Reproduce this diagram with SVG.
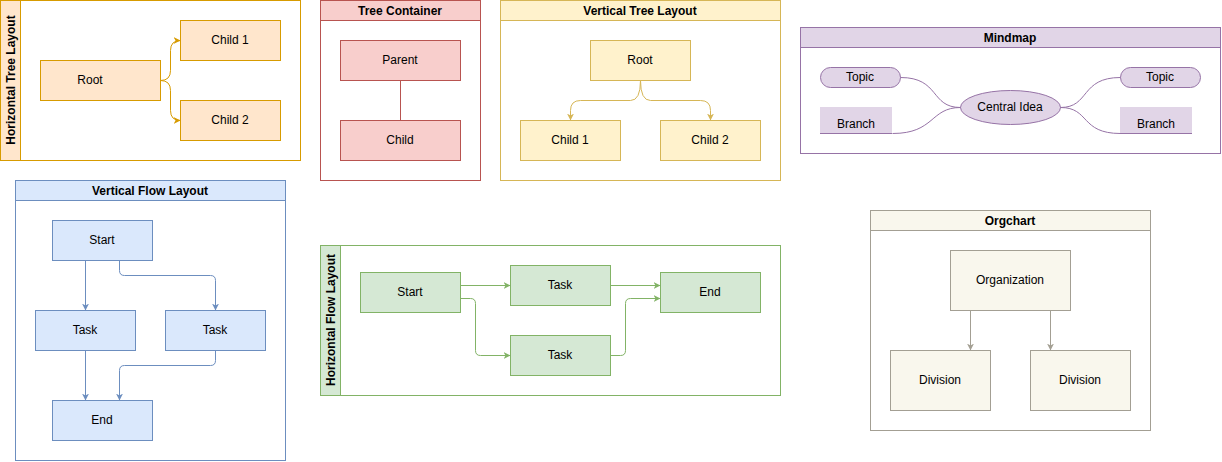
<svg xmlns="http://www.w3.org/2000/svg" width="1222" height="462" viewBox="0 0 1222 462">
<style>
text{font-family:"Liberation Sans",Arial,sans-serif;font-size:12px;fill:#000;text-anchor:middle;dominant-baseline:central}
.h{font-weight:bold}
.or{fill:#ffe6cc;stroke:#d79b00}.rd{fill:#f8cecc;stroke:#b85450}.yl{fill:#fff2cc;stroke:#d6b656}
.pu{fill:#e1d5e7;stroke:#9673a6}.bl{fill:#dae8fc;stroke:#6c8ebf}.gr{fill:#d5e8d4;stroke:#82b366}.og{fill:#f9f7ed;stroke:#a39f93}
.w{fill:#fff}
.c{fill:none}
</style>
<defs>
<marker id="ao" markerWidth="8" markerHeight="8" refX="7" refY="4" orient="auto" markerUnits="userSpaceOnUse"><path d="M0,0.5 L7,4 L0,7.5 L2,4z" fill="#d79b00"/></marker>
<marker id="ay" markerWidth="8" markerHeight="8" refX="7" refY="4" orient="auto" markerUnits="userSpaceOnUse"><path d="M0,0.5 L7,4 L0,7.5 L2,4z" fill="#d6b656"/></marker>
<marker id="ab" markerWidth="8" markerHeight="8" refX="7" refY="4" orient="auto" markerUnits="userSpaceOnUse"><path d="M0,0.5 L7,4 L0,7.5 L2,4z" fill="#6c8ebf"/></marker>
<marker id="ag" markerWidth="8" markerHeight="8" refX="7" refY="4" orient="auto" markerUnits="userSpaceOnUse"><path d="M0,0.5 L7,4 L0,7.5 L2,4z" fill="#82b366"/></marker>
<marker id="aw" markerWidth="8" markerHeight="8" refX="7" refY="4" orient="auto" markerUnits="userSpaceOnUse"><path d="M0,0.5 L7,4 L0,7.5 L2,4z" fill="#a39f93"/></marker>
</defs>
<g id="htree">
<rect class="or w" x="0.5" y="0.5" width="300" height="160" style="fill:#fff"/>
<rect class="or" x="0.5" y="0.5" width="20" height="160"/>
<text class="h" transform="translate(11,80) rotate(-90)">Horizontal Tree Layout</text>
</g>
<g id="ht-root"><rect class="or" x="40.5" y="60.5" width="120" height="40"/><text x="90" y="80">Root</text></g>
<g id="ht-c1"><rect class="or" x="180.5" y="20.5" width="100" height="40"/><text x="230" y="40">Child 1</text></g>
<g id="ht-c2"><rect class="or" x="180.5" y="100.5" width="100" height="40"/><text x="230" y="120">Child 2</text></g>
<g id="tc"><rect class="rd" x="320.5" y="0.5" width="160" height="180" style="fill:#fff"/><rect class="rd" x="320.5" y="0.5" width="160" height="20"/><text class="h" x="400" y="11">Tree Container</text></g>
<g id="tc-p"><rect class="rd" x="340.5" y="40.5" width="120" height="40"/><text x="400" y="60">Parent</text></g>
<g id="tc-c"><rect class="rd" x="340.5" y="120.5" width="120" height="40"/><text x="400" y="140">Child</text></g>
<g id="vtree"><rect class="yl" x="500.5" y="0.5" width="280" height="180" style="fill:#fff"/><rect class="yl" x="500.5" y="0.5" width="280" height="20"/><text class="h" x="640" y="11">Vertical Tree Layout</text></g>
<g id="vt-root"><rect class="yl" x="590.5" y="40.5" width="100" height="40"/><text x="640" y="60">Root</text></g>
<g id="vt-c1"><rect class="yl" x="520.5" y="120.5" width="100" height="40"/><text x="570" y="140">Child 1</text></g>
<g id="vt-c2"><rect class="yl" x="660.5" y="120.5" width="100" height="40"/><text x="710" y="140">Child 2</text></g>
<g id="mindmap"><rect class="pu" x="800.5" y="27.5" width="420" height="126" style="fill:#fff"/><rect class="pu" x="800.5" y="27.5" width="420" height="20"/><text class="h" x="1010" y="38">Mindmap</text></g>
<g id="mm-central"><ellipse class="pu" cx="1010.5" cy="107.5" rx="50" ry="17"/><text x="1010" y="107">Central Idea</text></g>
<g id="mm-t1"><rect class="pu" x="820.5" y="67.5" width="80" height="20" rx="10"/><text x="860" y="77">Topic</text></g>
<g id="mm-t2"><rect class="pu" x="1120.5" y="67.5" width="80" height="20" rx="10"/><text x="1160" y="77">Topic</text></g>
<g id="mm-b1"><rect x="820" y="107" width="72" height="26" fill="#e1d5e7"/><line x1="820" y1="133.5" x2="892" y2="133.5" stroke="#9673a6"/><text x="856" y="124">Branch</text></g>
<g id="mm-b2"><rect x="1120" y="107" width="72" height="26" fill="#e1d5e7"/><line x1="1120" y1="133.5" x2="1192" y2="133.5" stroke="#9673a6"/><text x="1156" y="124">Branch</text></g>
<g id="vflow"><rect class="bl" x="15.5" y="180.5" width="270" height="280" style="fill:#fff"/><rect class="bl" x="15.5" y="180.5" width="270" height="20"/><text class="h" x="150" y="191">Vertical Flow Layout</text></g>
<g id="vf-start"><rect class="bl" x="52.5" y="220.5" width="100" height="40"/><text x="102" y="240">Start</text></g>
<g id="vf-t1"><rect class="bl" x="35.5" y="310.5" width="100" height="40"/><text x="85" y="330">Task</text></g>
<g id="vf-t2"><rect class="bl" x="165.5" y="310.5" width="100" height="40"/><text x="215" y="330">Task</text></g>
<g id="vf-end"><rect class="bl" x="52.5" y="400.5" width="100" height="40"/><text x="102" y="420">End</text></g>
<g id="hflow"><rect class="gr" x="320.5" y="245.5" width="460" height="150" style="fill:#fff"/><rect class="gr" x="320.5" y="245.5" width="20" height="150"/><text class="h" transform="translate(331,320) rotate(-90)">Horizontal Flow Layout</text></g>
<g id="hf-start"><rect class="gr" x="360.5" y="272.5" width="100" height="40"/><text x="410" y="292">Start</text></g>
<g id="hf-t1"><rect class="gr" x="510.5" y="265.5" width="100" height="40"/><text x="560" y="285">Task</text></g>
<g id="hf-t2"><rect class="gr" x="510.5" y="335.5" width="100" height="40"/><text x="560" y="355">Task</text></g>
<g id="hf-end"><rect class="gr" x="660.5" y="272.5" width="100" height="40"/><text x="710" y="292">End</text></g>
<g id="orgchart"><rect class="og" x="870.5" y="210.5" width="280" height="220" style="fill:#fff"/><rect class="og" x="870.5" y="210.5" width="280" height="20"/><text class="h" x="1010" y="221">Orgchart</text></g>
<g id="oc-org"><rect class="og" x="950.5" y="250.5" width="120" height="60"/><text x="1010" y="280">Organization</text></g>
<g id="oc-d1"><rect class="og" x="890.5" y="350.5" width="100" height="60"/><text x="940" y="380">Division</text></g>
<g id="oc-d2"><rect class="og" x="1030.5" y="350.5" width="100" height="60"/><text x="1080" y="380">Division</text></g>
<g id="connectors" fill="none">
<path d="M160.5,80.5 Q170.5,80.5 170.5,70.5 L170.5,50.5 Q170.5,40.5 180.5,40.5" stroke="#d79b00" marker-end="url(#ao)"/>
<path d="M160.5,80.5 Q170.5,80.5 170.5,90.5 L170.5,110.5 Q170.5,120.5 180.5,120.5" stroke="#d79b00" marker-end="url(#ao)"/>
<path d="M400.5,80.5 L400.5,120.5" stroke="#b85450"/>
<path d="M640.5,80.5 Q640.5,100.5 630.5,100.5 L580.5,100.5 Q570.5,100.5 570.5,110.5 L570.5,120.5" stroke="#d6b656" marker-end="url(#ay)"/>
<path d="M640.5,80.5 Q640.5,100.5 650.5,100.5 L700.5,100.5 Q710.5,100.5 710.5,110.5 L710.5,120.5" stroke="#d6b656" marker-end="url(#ay)"/>
<path d="M900.5,77.5 C940,77.5 930,107.5 960.5,107.5" stroke="#9673a6"/>
<path d="M892.5,133.5 C935,133.5 930,107.5 960.5,107.5" stroke="#9673a6"/>
<path d="M1060.5,107.5 C1090,107.5 1080,77.5 1120.5,77.5" stroke="#9673a6"/>
<path d="M1060.5,107.5 C1090,107.5 1080,133.5 1120.5,133.5" stroke="#9673a6"/>
<path d="M85.5,260.5 L85.5,310.5" stroke="#6c8ebf" marker-end="url(#ab)"/>
<path d="M119.5,260.5 L119.5,270.5 Q119.5,275.5 124.5,275.5 L210.5,275.5 Q215.5,275.5 215.5,280.5 L215.5,310.5" stroke="#6c8ebf" marker-end="url(#ab)"/>
<path d="M85.5,350.5 L85.5,400.5" stroke="#6c8ebf" marker-end="url(#ab)"/>
<path d="M215.5,350.5 L215.5,360.5 Q215.5,365.5 210.5,365.5 L124.5,365.5 Q119.5,365.5 119.5,370.5 L119.5,400.5" stroke="#6c8ebf" marker-end="url(#ab)"/>
<path d="M460.5,285.5 L510.5,285.5" stroke="#82b366" marker-end="url(#ag)"/>
<path d="M460.5,298.5 L470.5,298.5 Q475.5,298.5 475.5,303.5 L475.5,350.5 Q475.5,355.5 480.5,355.5 L510.5,355.5" stroke="#82b366" marker-end="url(#ag)"/>
<path d="M610.5,285.5 L660.5,285.5" stroke="#82b366" marker-end="url(#ag)"/>
<path d="M610.5,355.5 L620.5,355.5 Q625.5,355.5 625.5,350.5 L625.5,303.5 Q625.5,298.5 630.5,298.5 L660.5,298.5" stroke="#82b366" marker-end="url(#ag)"/>
<path d="M970.5,310.5 L970.5,350.5" stroke="#a39f93" marker-end="url(#aw)"/>
<path d="M1050.5,310.5 L1050.5,350.5" stroke="#a39f93" marker-end="url(#aw)"/>
</g>
</svg>
